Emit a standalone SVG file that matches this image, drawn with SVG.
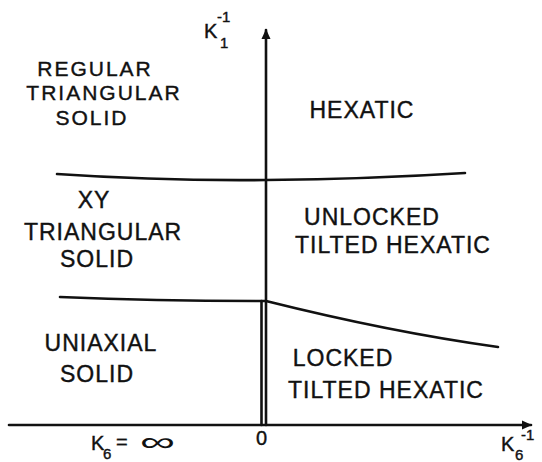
<svg xmlns="http://www.w3.org/2000/svg" width="542" height="462" viewBox="0 0 542 462">
<style>
text{font-family:"Liberation Sans",Arial,sans-serif;fill:#111;stroke:#111;stroke-width:0.4;}
.lab{font-size:23px;letter-spacing:1px;text-anchor:middle;}
.top{font-size:21px;letter-spacing:2px;}
.ax{font-size:20px;}
.sm{font-size:15px;}
.ln{fill:none;stroke:#111;stroke-width:2.6;stroke-linecap:round;}
</style>
<defs>
<marker id="ah" markerWidth="10" markerHeight="10" refX="9" refY="5" orient="auto" markerUnits="userSpaceOnUse">
<path d="M0,0.5 L10,5 L0,9.5 Z" fill="#111"/>
</marker>
</defs>
<rect width="542" height="462" fill="#fff"/>
<g id="connectors">
<line id="xaxis" class="ln" x1="9" y1="425" x2="531" y2="425" marker-end="url(#ah)"/>
<line id="yaxis" class="ln" x1="266" y1="425" x2="266" y2="30" marker-end="url(#ah)"/>
<line id="dbl" class="ln" x1="261.5" y1="301" x2="261.5" y2="425" stroke-width="2.2"/>
<path id="upper" class="ln" d="M57,174 Q160,181 266,180 Q370,179 465,173"/>
<path id="lower-left" class="ln" d="M60,297 Q160,301 266,301"/>
<path id="lower-right" class="ln" d="M266,301 Q390,332 498,347"/>
</g>
<g id="n-regular"><text class="lab top" x="95" y="76">REGULAR</text><text class="lab top" x="104" y="100">TRIANGULAR</text><text class="lab top" x="92" y="125">SOLID</text></g>
<g id="n-hexatic"><text class="lab" x="362" y="118">HEXATIC</text></g>
<g id="n-xy"><text class="lab" x="94" y="208">XY</text><text class="lab" x="103" y="240">TRIANGULAR</text><text class="lab" x="97" y="267">SOLID</text></g>
<g id="n-unlocked"><text class="lab" x="372" y="225">UNLOCKED</text><text class="lab" x="393" y="253">TILTED HEXATIC</text></g>
<g id="n-uniaxial"><text class="lab" x="101" y="351">UNIAXIAL</text><text class="lab" x="97" y="382">SOLID</text></g>
<g id="n-locked"><text class="lab" x="343" y="366">LOCKED</text><text class="lab" x="386" y="398">TILTED HEXATIC</text></g>
<g id="axis-labels">
<text class="ax" x="204" y="38">K</text><text class="sm" x="220" y="48">1</text><text class="sm" x="217" y="22">-1</text>
<text class="ax" x="91" y="450">K</text><text class="sm" x="103" y="459">6</text><text class="ax" x="116" y="449">=</text><text x="140" y="451" style="font-size:27px;stroke-width:0" textLength="35" lengthAdjust="spacingAndGlyphs">∞</text>
<text class="ax" x="256" y="445">0</text>
<text class="ax" x="501" y="451">K</text><text class="sm" x="515" y="460">6</text><text class="sm" x="521" y="440">-1</text>
</g>
</svg>
